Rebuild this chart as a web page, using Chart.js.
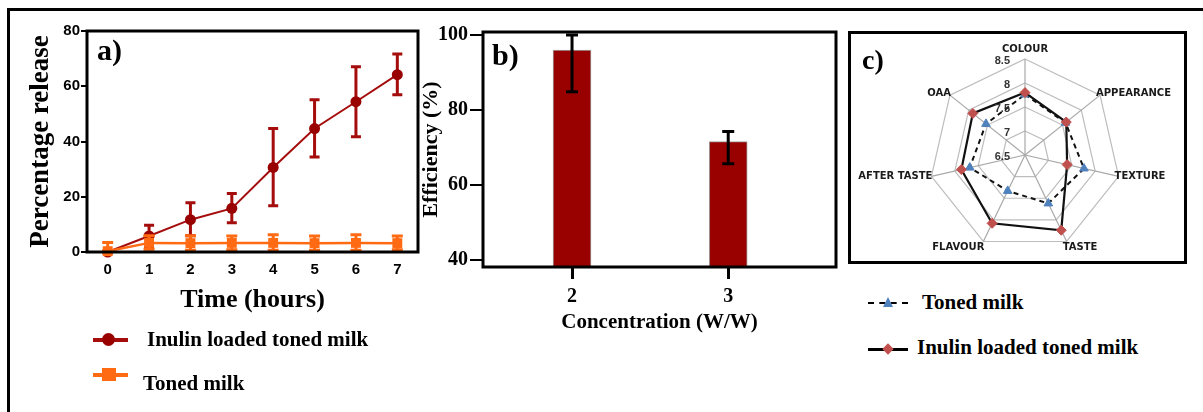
<!DOCTYPE html>
<html><head><meta charset="utf-8">
<script src="https://cdn.jsdelivr.net/npm/chart.js@4.4.1/dist/chart.umd.min.js"></script>
<style>
html,body{margin:0;padding:0;background:#fff;width:1203px;height:412px;overflow:hidden;position:relative;}
.abs{position:absolute;}
canvas{position:absolute;}
.serif{position:absolute;font-family:"Liberation Serif","Times New Roman",serif;font-weight:bold;color:#000;white-space:nowrap;line-height:1;}
</style></head><body>
<div class="abs" style="left:7px;top:8px;width:1196px;height:3px;background:#000"></div>
<div class="abs" style="left:7px;top:8px;width:3px;height:404px;background:#000"></div>
<div class="abs" style="left:848px;top:31px;width:339px;height:233px;border:3px solid #000;box-sizing:border-box"></div>

<canvas id="ca" width="418" height="320" style="left:12px;top:12px"></canvas>
<canvas id="cb" width="436" height="330" style="left:412px;top:12px"></canvas>
<canvas id="cc" width="333" height="228" style="left:851px;top:34px"></canvas>

<div class="serif" style="left:97px;top:35px;font-size:30px">a)</div>
<div class="serif" style="left:492px;top:40px;font-size:30px">b)</div>
<div class="serif" style="left:862px;top:46px;font-size:28px">c)</div>

<!-- legend panel a -->
<div class="abs" style="left:93px;top:338px;width:35px;height:4px;background:#a50d0d"></div>
<div class="abs" style="left:102px;top:333px;width:13px;height:13px;border-radius:50%;background:#990000"></div>
<div class="serif" style="left:147px;top:329px;font-size:21px">Inulin loaded toned milk</div>
<div class="abs" style="left:93px;top:373px;width:35px;height:4px;background:#ff6a13"></div>
<div class="abs" style="left:102px;top:368px;width:14px;height:13px;background:#ff6a13"></div>
<div class="serif" style="left:143px;top:373px;font-size:21px">Toned milk</div>

<!-- legend panel c -->
<div class="abs" style="left:868px;top:302px;width:40px;height:0;border-top:2.5px dashed #000"></div>
<div class="abs" style="left:883px;top:297px;width:0;height:0;border-left:5px solid transparent;border-right:5px solid transparent;border-bottom:10px solid #4f81bd"></div>
<div class="serif" style="left:922px;top:292px;font-size:21px">Toned milk</div>
<div class="abs" style="left:868px;top:348px;width:40px;height:3px;background:#000"></div>
<div class="abs" style="left:884px;top:345px;width:8px;height:8px;background:#c0504d;transform:rotate(45deg)"></div>
<div class="serif" style="left:917px;top:337px;font-size:21px">Inulin loaded toned milk</div>

<script>
// ---- Panel a: release over time ----
const hours = [0, 1, 2, 3, 4, 5, 6, 7];
const inulinMean = [0, 5.8, 11.7, 15.8, 30.6, 44.7, 54.4, 64.2];
const inulinHigh = [0, 9.7, 17.8, 21.2, 44.7, 55.1, 67.1, 71.7];
const inulinLow  = [0, 1.6, 5.9, 10.6, 16.7, 34.4, 41.7, 56.9];
const tonedMean = [0.3, 3.3, 3.2, 3.3, 3.3, 3.2, 3.3, 3.2];
const tonedHigh = [3.4, 5.9, 5.9, 5.8, 6.2, 5.8, 6.2, 5.8];
const tonedLow  = [0.3, 1.0, 0.6, 0.8, 0.6, 0.6, 0.6, 0.8];
const releaseYTicks = [0, 20, 40, 60, 80];

// ---- Panel b: efficiency ----
const concentrations = [2, 3];
const efficiencyMean = [96.0, 71.5];
const efficiencyHigh = [100.0, 74.2];
const efficiencyLow  = [84.8, 65.6];
const efficiencyYTicks = [40, 60, 80, 100];

// ---- Panel c: sensory radar ----
const attributes = ['COLOUR', 'APPEARANCE', 'TEXTURE', 'TASTE', 'FLAVOUR', 'AFTER TASTE', 'OAA'];
const tonedScores  = [7.76, 7.58, 7.76, 7.62, 7.33, 7.68, 7.54];
const inulinScores = [7.80, 7.60, 7.40, 8.24, 8.08, 7.86, 7.89];
const radarTicks = [6.5, 7, 7.5, 8, 8.5];
const radarTickLabels = ['6.5', '7', '7.5', '8', '8.5'];

const SERIF = '"Liberation Serif","Times New Roman",serif';
const SANS = '"Liberation Sans",Arial,sans-serif';

function drawErr(chart, args, above) {
  const ds = chart.data.datasets[args.index];
  if (!ds.err || !!ds.err.above !== above) return;
  const ctx = chart.ctx, ys = chart.scales.y;
  ctx.save();
  ctx.strokeStyle = ds.err.color; ctx.lineWidth = ds.err.width; ctx.lineCap = 'butt';
  args.meta.data.forEach((el, i) => {
    const hi = ds.err.high[i], lo = ds.err.low[i];
    if (hi === lo) return;
    const x = el.x, y1 = ys.getPixelForValue(hi), y2 = ys.getPixelForValue(lo), c = ds.err.cap / 2;
    ctx.beginPath();
    ctx.moveTo(x, y1); ctx.lineTo(x, y2);
    ctx.moveTo(x - c, y1); ctx.lineTo(x + c, y1);
    ctx.moveTo(x - c, y2); ctx.lineTo(x + c, y2);
    ctx.stroke();
  });
  ctx.restore();
}
const errorBarPlugin = {
  id: 'errbars',
  beforeDatasetDraw(chart, args) { drawErr(chart, args, false); },
  afterDatasetDraw(chart, args) { drawErr(chart, args, true); }
};
const boxPlugin = {
  id: 'box',
  afterDraw(chart) {
    const a = chart.chartArea, ctx = chart.ctx;
    ctx.save(); ctx.strokeStyle = '#000'; ctx.lineWidth = 3;
    ctx.strokeRect(a.left, a.top, a.right - a.left, a.bottom - a.top);
    ctx.restore();
  }
};

new Chart(document.getElementById('ca'), {
  type: 'line',
  data: {
    datasets: [
      {
        label: 'Toned milk',
        data: hours.map((h, i) => ({ x: h, y: tonedMean[i] })),
        borderColor: '#ff6a13', backgroundColor: '#ff6a13', borderWidth: 2.5,
        pointStyle: 'rect', pointRadius: 7, pointBorderWidth: 0, pointBackgroundColor: '#ff6a13',
        order: 0, clip: false,
        err: { high: tonedHigh, low: tonedLow, color: '#ff6a13', width: 3, cap: 11 }
      },
      {
        label: 'Inulin loaded toned milk',
        data: hours.map((h, i) => ({ x: h, y: inulinMean[i] })),
        borderColor: '#a50d0d', backgroundColor: '#990000', borderWidth: 2,
        pointStyle: 'circle', pointRadius: 5.5, pointBorderWidth: 0, pointBackgroundColor: '#990000',
        order: 1, clip: false,
        err: { high: inulinHigh, low: inulinLow, color: '#a50d0d', width: 3, cap: 10 }
      }
    ]
  },
  options: {
    responsive: false, animation: false, devicePixelRatio: 1,
    layout: { padding: { left: 0, top: 19, right: 12, bottom: 0 } },
    plugins: { legend: { display: false }, tooltip: { enabled: false } },
    scales: {
      x: {
        type: 'linear', min: -0.5, max: 7.5,
        afterBuildTicks: s => { s.ticks = hours.map(v => ({ value: v })); },
        afterFit: s => { s.height = 80; },
        grid: { display: false, drawTicks: false }, border: { display: false },
        ticks: { padding: 9, color: '#000', font: { family: SANS, weight: 'bold', size: 15 } },
        title: { display: true, text: 'Time (hours)', color: '#000', font: { family: SERIF, weight: 'bold', size: 26, lineHeight: 1.2 }, padding: { top: 0, bottom: 16 } }
      },
      y: {
        min: 0, max: 80,
        afterBuildTicks: s => { s.ticks = releaseYTicks.map(v => ({ value: v })); },
        afterFit: s => { s.width = 75; },
        grid: { drawOnChartArea: false, drawTicks: true, tickLength: 6, color: '#000', lineWidth: 2 }, border: { display: false },
        ticks: { padding: 1, color: '#000', font: { family: SANS, weight: 'bold', size: 15 } },
        title: { display: true, text: 'Percentage release', color: '#000', font: { family: SERIF, weight: 'bold', size: 27, lineHeight: 1.2 }, padding: { top: 13, bottom: 0 } }
      }
    }
  },
  plugins: [errorBarPlugin, boxPlugin]
});

new Chart(document.getElementById('cb'), {
  type: 'bar',
  data: {
    datasets: [{
      label: 'Efficiency (%)',
      data: concentrations.map((c, i) => ({ x: c, y: efficiencyMean[i] })),
      backgroundColor: '#990000', borderColor: '#a0a0a0', borderWidth: 1, barThickness: 38,
      err: { high: efficiencyHigh, low: efficiencyLow, color: '#000', width: 3, cap: 12, above: true }
    }]
  },
  options: {
    responsive: false, animation: false, devicePixelRatio: 1,
    layout: { padding: { left: 0, top: 20, right: 12, bottom: 0 } },
    plugins: { legend: { display: false }, tooltip: { enabled: false } },
    scales: {
      x: {
        type: 'linear', min: 1.43, max: 3.69, offset: false,
        afterBuildTicks: s => { s.ticks = concentrations.map(v => ({ value: v })); },
        afterFit: s => { s.height = 75; },
        grid: { display: true, offset: false, drawOnChartArea: false, drawTicks: true, tickLength: 12, color: '#000', lineWidth: 3 }, border: { display: false },
        ticks: { padding: 6, color: '#000', font: { family: SERIF, weight: 'bold', size: 20 } },
        title: { display: true, text: 'Concentration (W/W)', color: '#000', font: { family: SERIF, weight: 'bold', size: 21, lineHeight: 1.2 }, padding: { top: 0, bottom: 7 } }
      },
      y: {
        min: 38, max: 100.8,
        afterBuildTicks: s => { s.ticks = efficiencyYTicks.map(v => ({ value: v })); },
        afterFit: s => { s.width = 71; },
        grid: { drawOnChartArea: false, drawTicks: true, tickLength: 13, color: '#000', lineWidth: 2 }, border: { display: false },
        ticks: { padding: 2, color: '#000', font: { family: SERIF, weight: 'bold', size: 20 } },
        title: { display: true, text: 'Efficiency (%)', color: '#000', font: { family: SERIF, weight: 'bold', size: 22, lineHeight: 1.2 }, padding: { top: 6, bottom: 0 } }
      }
    }
  },
  plugins: [errorBarPlugin, boxPlugin]
});

const radarLabelPlugin = {
  id: 'radarLabels',
  afterDraw(chart) {
    const s = chart.scales.r, ctx = chart.ctx;
    ctx.save();
    ctx.fillStyle = '#1a1a1a';
    ctx.font = 'bold 10px "DejaVu Sans", ' + SANS;
    chart.data.labels.forEach((lab, i) => {
      const ang = (s.getIndexAngle(i) * 180 / Math.PI) % 360;
      const p = s.getPointPosition(i, s.drawingArea);
      let x = p.x, y = p.y, align = 'center';
      if (ang < 1 || ang > 359) { y = p.y - 10; }
      else if (ang < 180) { align = 'left'; x = p.x - 4; }
      else { align = 'right'; x = p.x + 1; }
      if (ang > 120 && ang < 240) y = p.y + 6;
      else if (ang >= 1 && (ang < 90 || ang > 270)) y = p.y - 2;
      ctx.textAlign = align; ctx.textBaseline = 'middle';
      ctx.fillText(lab, x, y);
    });
    ctx.fillStyle = '#333';
    ctx.font = 'bold 11px ' + SANS;
    ctx.textAlign = 'right'; ctx.textBaseline = 'middle';
    radarTicks.forEach((v, k) => {
      const d = s.getDistanceFromCenterForValue(v);
      ctx.fillText(radarTickLabels[k], s.xCenter - 15, s.yCenter - d + 2);
    });
    ctx.restore();
  }
};

new Chart(document.getElementById('cc'), {
  type: 'radar',
  data: {
    labels: attributes,
    datasets: [
      {
        label: 'Toned milk', data: tonedScores, order: 1,
        borderColor: '#111', borderWidth: 2, borderDash: [5, 4], fill: false, backgroundColor: 'rgba(0,0,0,0)',
        pointStyle: 'triangle', pointRadius: 5, pointBackgroundColor: '#4f81bd', pointBorderColor: '#4f81bd', pointBorderWidth: 1
      },
      {
        label: 'Inulin loaded toned milk', data: inulinScores, order: 0,
        borderColor: '#111', borderWidth: 2.2, fill: false, backgroundColor: 'rgba(0,0,0,0)',
        pointStyle: 'rectRot', pointRadius: 5, pointBackgroundColor: '#c0504d', pointBorderColor: '#c0504d', pointBorderWidth: 1
      }
    ]
  },
  options: {
    responsive: false, animation: false, devicePixelRatio: 1,
    layout: { padding: { left: 78, top: 25, right: 63, bottom: 11 } },
    plugins: { legend: { display: false }, tooltip: { enabled: false } },
    scales: {
      r: {
        min: 6.5, max: 8.5,
        afterBuildTicks: s => { s.ticks = radarTicks.map(v => ({ value: v })); },
        ticks: { display: false, stepSize: 0.5 },
        pointLabels: { display: false },
        grid: { color: '#bdbdbd', lineWidth: 1.2 },
        angleLines: { color: '#a8a8a8', lineWidth: 1.2 }
      }
    }
  },
  plugins: [radarLabelPlugin]
});
</script>
</body></html>
